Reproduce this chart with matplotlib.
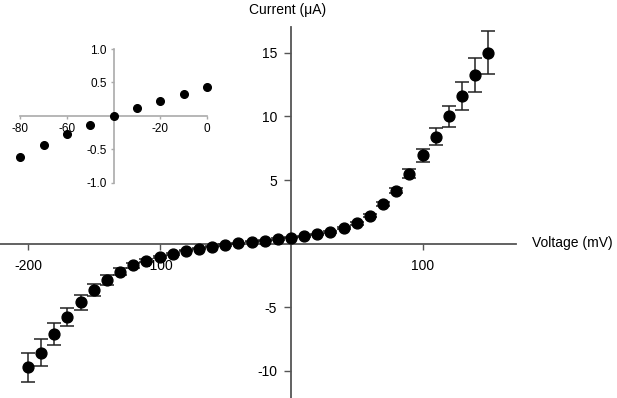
import numpy as np
import matplotlib
matplotlib.use("Agg")
import matplotlib.pyplot as plt

plt.rcParams['font.family'] = ['Liberation Sans', 'DejaVu Sans']
plt.rcParams['axes.unicode_minus'] = False

# main I-V curve
voltage = [-200, -190, -180, -170, -160, -150, -140, -130, -120, -110,
           -100, -90, -80, -70, -60, -50, -40, -30, -20, -10,
           0, 10, 20, 30, 40, 50, 60, 70, 80, 90,
           100, 110, 120, 130, 140, 150]
current = [-9.7, -8.55, -7.1, -5.75, -4.6, -3.65, -2.85, -2.2, -1.7, -1.35,
           -1.05, -0.8, -0.55, -0.39, -0.23, -0.1, 0.03, 0.16, 0.25, 0.37,
           0.47, 0.58, 0.74, 0.92, 1.22, 1.6, 2.2, 3.1, 4.15, 5.5,
           6.95, 8.4, 10.0, 11.6, 13.25, 15.0]
err = [1.15, 1.05, 0.87, 0.72, 0.6, 0.48, 0.4, 0.28, 0.18, 0.12,
       0.1, 0.06, 0.05, 0.05, 0.05, 0.05, 0.05, 0.05, 0.05, 0.05,
       0.05, 0.05, 0.05, 0.06, 0.08, 0.1, 0.12, 0.15, 0.2, 0.35,
       0.5, 0.67, 0.85, 1.1, 1.35, 1.7]

# inset
volt_in = [-80, -70, -60, -50, -40, -30, -20, -10, 0]
curr_in = [-0.62, -0.435, -0.275, -0.13, -0.005, 0.11, 0.22, 0.32, 0.435]

W, H = 617, 398
fig = plt.figure(figsize=(W/100, H/100), dpi=100)

# pixel mapping of main plot
x0, sx = 291, 1.315   # px of V=0, px per mV
y0, sy = 243.7, 12.73  # px of I=0, px per uA

ax = fig.add_axes([0, 0, 1, 1])
ax.set_xlim(-x0/sx, (W-x0)/sx)
ax.set_ylim(-(H-y0)/sy, y0/sy)
ax.patch.set_alpha(0)

for s in ['top', 'right']:
    ax.spines[s].set_visible(False)
ax.spines['left'].set_position(('data', 0))
ax.spines['bottom'].set_position(('data', 0))
ax.spines['left'].set_bounds(-12.2, 17.0)
ax.spines['bottom'].set_bounds(-221, 171)
for s in ['left', 'bottom']:
    ax.spines[s].set_color('#555555')
    ax.spines[s].set_linewidth(1.3)

ax.set_xticks([-200, -100, 100])
ax.set_yticks([-10, -5, 5, 10, 15])
ax.tick_params(axis='x', direction='out', length=4, width=1, color='#555555',
               pad=7, labelsize=10)
ax.tick_params(axis='y', direction='out', length=5, width=1, color='#555555',
               pad=5, labelsize=10)

ax.errorbar(voltage, current, yerr=err, fmt='o', color='black', ms=7.8,
            ecolor='#222222', elinewidth=1.1, capsize=5, capthick=1.1,
            zorder=3, clip_on=False)

fig.text(288/W, 1 - 10/H, 'Current (μA)', ha='center', va='center', fontsize=10)
fig.text(532/W, 1 - 243/H, 'Voltage (mV)', ha='left', va='center', fontsize=10)

# inset axes
ix0, ix1 = 20.3, 207.0
iy_top, iy_bot = 49.0, 182.7
axi = fig.add_axes([ix0/W, 1 - iy_bot/H, (ix1-ix0)/W, (iy_bot-iy_top)/H])
axi.set_xlim(-80, 0)
axi.set_ylim(-1, 1)
axi.patch.set_alpha(0)
for s in ['top', 'right']:
    axi.spines[s].set_visible(False)
axi.spines['left'].set_position(('data', -40))
axi.spines['bottom'].set_position(('data', 0))
for s in ['left', 'bottom']:
    axi.spines[s].set_color('#aaaaaa')
    axi.spines[s].set_linewidth(1.2)
axi.set_xticks([-80, -60, -20, 0])
axi.set_yticks([-1.0, -0.5, 0.5, 1.0])
axi.set_yticklabels(['-1.0', '-0.5', '0.5', '1.0'])
axi.tick_params(axis='both', direction='out', length=2, width=1, color='#aaaaaa',
                labelsize=8.5, pad=3)
axi.plot(volt_in, curr_in, 'o', color='black', ms=5.5, clip_on=False, zorder=3)

fig.savefig('out.png', dpi=100)
